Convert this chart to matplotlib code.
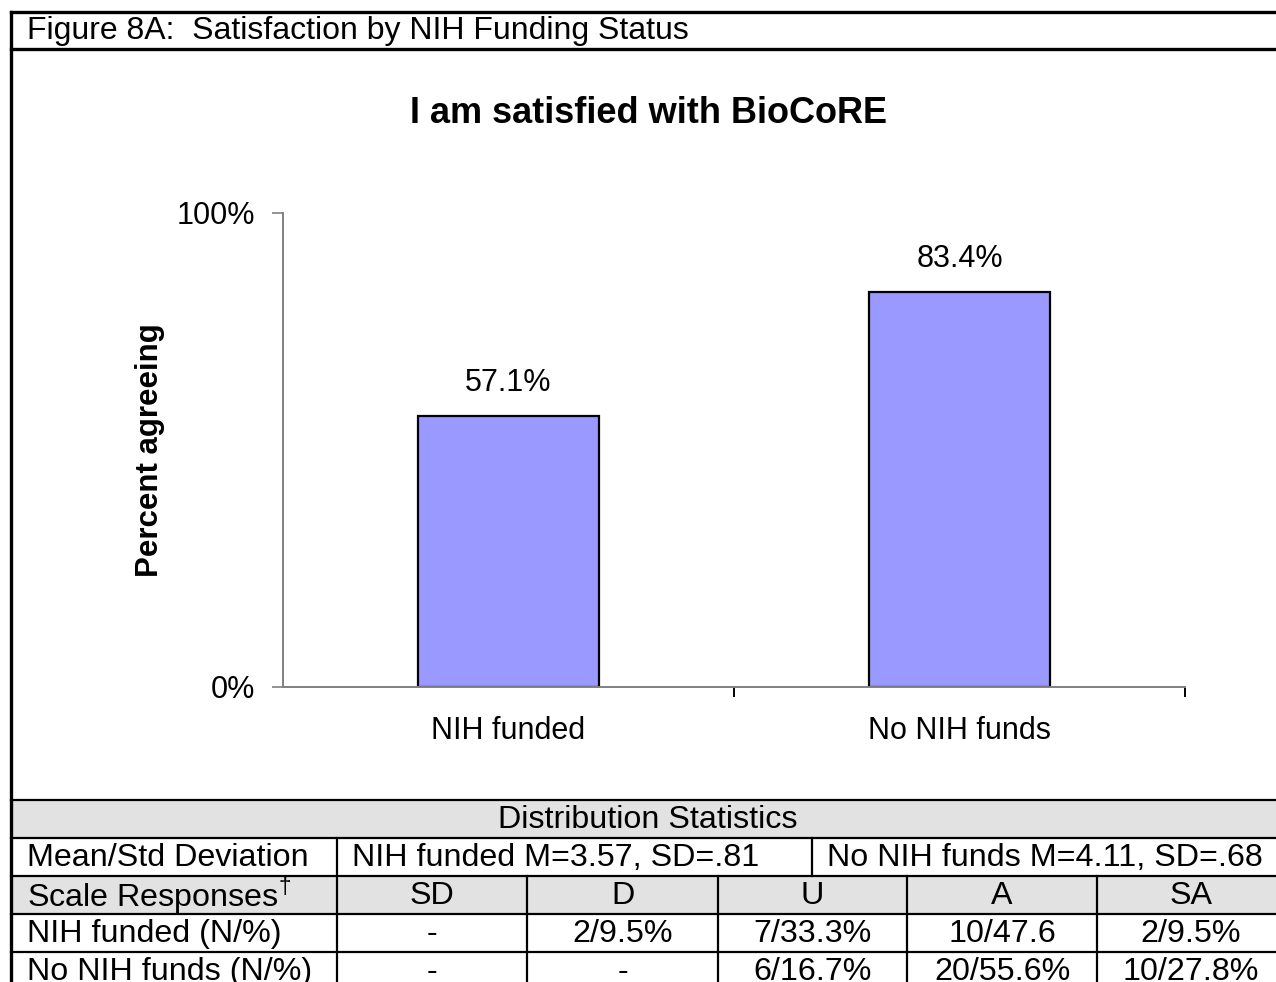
import matplotlib
matplotlib.use('Agg')
import matplotlib.pyplot as plt
from matplotlib.patches import Rectangle

plt.rcParams['font.family'] = ['Liberation Sans', 'DejaVu Sans']
plt.rcParams['mathtext.fontset'] = 'custom'
plt.rcParams['mathtext.rm'] = 'Liberation Sans'

# data
caption = 'Figure 8A:  Satisfaction by NIH Funding Status'
chart_title = 'I am satisfied with BioCoRE'
categories = ['NIH funded', 'No NIH funds']
pct_agree = [57.1, 83.4]
mean_sd = ['NIH funded M=3.57, SD=.81', 'No NIH funds M=4.11, SD=.68']
scale_labels = ['SD', 'D', 'U', 'A', 'SA']
row_names = ['NIH funded (N/%)', 'No NIH funds (N/%)']
nih_funded_resp = ['-', '2/9.5%', '7/33.3%', '10/47.6', '2/9.5%']
no_nih_resp = ['-', '-', '6/16.7%', '20/55.6%', '10/27.8%']

W, H = 1276, 982
fig = plt.figure(figsize=(W / 100, H / 100), dpi=100)

# page overlay in pixel coords (border + table)
pg = fig.add_axes([0, 0, 1, 1], zorder=0)
pg.set_xlim(0, W)
pg.set_ylim(H, 0)
pg.set_axis_off()

L, R = 11, 1285
pg.plot([L, R], [12, 12], color='black', lw=2.4)
pg.plot([L, R], [49, 49], color='black', lw=2.4)
pg.plot([L, L], [12, 1000], color='black', lw=2.4)
pg.text(27, 31, caption, fontsize=23, va='center', ha='left')

pg.text(648, 113, chart_title, fontsize=26, fontweight='bold', ha='center', va='center')

# table
rows = [800, 838, 876, 914, 952, 990]
cols = [L, 337, 527, 718, 907, 1097, R]
pg.add_patch(Rectangle((L, rows[0]), R - L, rows[1] - rows[0], facecolor='#e2e2e2', edgecolor='none'))
pg.add_patch(Rectangle((L, rows[2]), R - L, rows[3] - rows[2], facecolor='#e2e2e2', edgecolor='none'))
for y in rows:
    pg.plot([L, R], [y, y], color='black', lw=1.6)
pg.plot([cols[1], cols[1]], [rows[1], rows[-1]], color='black', lw=1.6)
pg.plot([812, 812], [rows[1], rows[2]], color='black', lw=1.6)
for x in cols[2:-1]:
    pg.plot([x, x], [rows[2], rows[-1]], color='black', lw=1.6)

fs = 23.2
mid = lambda i: (rows[i] + rows[i + 1]) / 2 + 1
pg.text((L + R) / 2, mid(0), 'Distribution Statistics', fontsize=fs, ha='center', va='center')
pg.text(27, mid(1), 'Mean/Std Deviation', fontsize=fs, ha='left', va='center')
pg.text(352, mid(1), mean_sd[0], fontsize=fs, ha='left', va='center')
pg.text(827, mid(1), mean_sd[1], fontsize=fs, ha='left', va='center')
pg.text(27, mid(2), 'Scale Responses$^{\u2020}$', fontsize=fs, ha='left', va='center')
for j, lab in enumerate(scale_labels):
    cx = (cols[j + 1] + cols[j + 2]) / 2
    pg.text(cx, mid(2), lab, fontsize=fs, ha='center', va='center')
    pg.text(cx, mid(3), nih_funded_resp[j], fontsize=fs, ha='center', va='center')
    pg.text(cx, mid(4), no_nih_resp[j], fontsize=fs, ha='center', va='center')
pg.text(27, mid(3), row_names[0], fontsize=fs, ha='left', va='center')
pg.text(27, mid(4), row_names[1], fontsize=fs, ha='left', va='center')

# bar chart
ax = fig.add_axes([283 / W, 1 - 687 / H, 902 / W, 474 / H], zorder=1)
ax.set_facecolor('none')
x = list(range(len(categories)))
ax.bar(x, pct_agree, width=0.4, color='#9999ff', edgecolor='black', linewidth=1.6)
for xi, v in zip(x, pct_agree):
    ax.annotate(f'{v}%', (xi, v), xytext=(0, 18), textcoords='offset points',
                ha='center', va='baseline', fontsize=22)
ax.set_xlim(-0.5, 1.5)
ax.set_ylim(0, 100)
ax.set_yticks([0, 100])
ax.set_yticklabels(['0%', '100%'], fontsize=22)
ax.set_xticks(x)
ax.set_xticklabels(categories, fontsize=22)
ax.set_xticks([0.5, 1.5], minor=True)
ax.tick_params(axis='x', which='major', length=0, pad=21)
ax.tick_params(axis='x', which='minor', length=7, width=1.4, color='black', direction='out')
ax.tick_params(axis='y', length=8, width=1.2, color='#808080', pad=12)
for s in ['top', 'right']:
    ax.spines[s].set_visible(False)
for s in ['left', 'bottom']:
    ax.spines[s].set_color('#808080')
    ax.spines[s].set_linewidth(1.4)
ax.set_ylabel('Percent agreeing', fontsize=22.5, fontweight='bold')
ax.yaxis.set_label_coords(-0.131, 0.5)

fig.savefig('out.png', dpi=100)
